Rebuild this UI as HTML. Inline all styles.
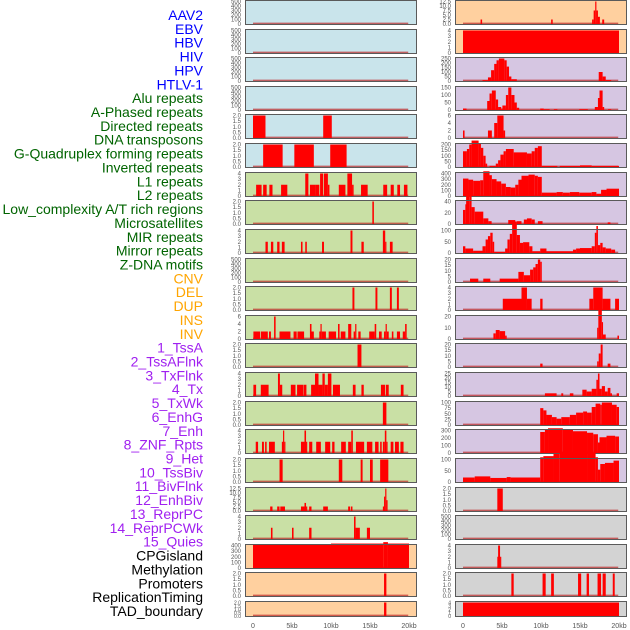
<!DOCTYPE html>
<html><head><meta charset="utf-8"><style>
html,body{margin:0;padding:0;background:#fff;}
svg{display:block;font-family:"Liberation Sans",sans-serif;}
</style></head><body>
<svg id="chart" width="630" height="630" viewBox="0 0 630 630" xmlns="http://www.w3.org/2000/svg"></svg>
<script>
// ---- labels ----
const trackLabels = ["AAV2","EBV","HBV","HIV","HPV","HTLV-1","Alu repeats","A-Phased repeats","Directed repeats","DNA transposons","G-Quadruplex forming repeats","Inverted repeats","L1 repeats","L2 repeats","Low_complexity A/T rich regions","Microsatellites","MIR repeats","Mirror repeats","Z-DNA motifs","CNV","DEL","DUP","INS","INV","1_TssA","2_TssAFlnk","3_TxFlnk","4_Tx","5_TxWk","6_EnhG","7_Enh","8_ZNF_Rpts","9_Het","10_TssBiv","11_BivFlnk","12_EnhBiv","13_ReprPC","14_ReprPCWk","15_Quies","CPGisland","Methylation","Promoters","ReplicationTiming","TAD_boundary"];
const labelColors = ["#0000ff","#0000ff","#0000ff","#0000ff","#0000ff","#0000ff","#006400","#006400","#006400","#006400","#006400","#006400","#006400","#006400","#006400","#006400","#006400","#006400","#006400","#ffa500","#ffa500","#ffa500","#ffa500","#ffa500","#a020f0","#a020f0","#a020f0","#a020f0","#a020f0","#a020f0","#a020f0","#a020f0","#a020f0","#a020f0","#a020f0","#a020f0","#a020f0","#a020f0","#a020f0","#000000","#000000","#000000","#000000","#000000"];
// ---- x axis ----
const xTickValues = [0,5,10,15,20];
const xTickLabels = ["0","5kb","10kb","15kb","20kb"];
// ---- y tick sets per row ----
const leftYTicks = [[0,100,200,300,400,500],[0,100,200,300,400,500],[0,100,200,300,400,500],[0,100,200,300,400,500],[0,0.5,1,1.5,2],[0,0.5,1,1.5,2],[0,1,2,3,4],[0,0.5,1,1.5,2],[0,1,2,3,4],[0,100,200,300,400,500],[0,0.5,1,1.5,2],[0,2,4,6],[0,0.5,1,1.5,2],[0,1,2,3,4],[0,0.5,1,1.5,2],[0,1,2,3,4],[0,0.5,1,1.5,2],[0,2.5,5,7.5,10,12.5],[0,1,2,3,4],[0,100,200,300,400],[0,0.5,1,1.5,2],[0,0.5,1,1.5,2]];
const rightYTicks = [[0,2.5,5,7.5,10,12.5],[0,1,2,3,4],[0,50,100,150,200,250],[0,50,100,150],[0,2,4,6],[0,50,100,150,200],[0,100,200,300,400],[0,20,40],[0,50,100],[0,5,10,15,20],[0,1,2,3,4],[0,10,20],[0,5,10,15,20],[0,5,10,15,20,25],[0,25,50,75,100],[0,100,200,300],[0,50,100],[0,0.5,1,1.5,2],[0,100,200,300,400,500],[0,1,2,3,4],[0,0.5,1,1.5,2],[0,1,2,3,4]];
const leftBg = ["#c9e4eb","#c9e4eb","#c9e4eb","#c9e4eb","#c9e4eb","#c9e4eb","#c9e0a5","#c9e0a5","#c9e0a5","#c9e0a5","#c9e0a5","#c9e0a5","#c9e0a5","#c9e0a5","#c9e0a5","#c9e0a5","#c9e0a5","#c9e0a5","#c9e0a5","#ffd09f","#ffd09f","#ffd09f"];
const rightBg = ["#ffd09f","#ffd09f","#d6c6e2","#d6c6e2","#d6c6e2","#d6c6e2","#d6c6e2","#d6c6e2","#d6c6e2","#d6c6e2","#d6c6e2","#d6c6e2","#d6c6e2","#d6c6e2","#d6c6e2","#d6c6e2","#d6c6e2","#d3d3d3","#d3d3d3","#d3d3d3","#d3d3d3","#d3d3d3"];
// ---- series: [startKb, endKb, value] ----
const leftSeries = [
 [],[],[],[],
 [[0,1.6,2],[9,10.1,2]],
 [[1.3,3.8,2],[5.3,7.8,2],[9.9,12,2]],
 [[0.4,1.1,2],[1.3,1.75,2],[2.1,2.5,2],[3.6,4.4,2],[6.7,7.1,4],[7.3,8,2],[8,8.5,2],[8.6,9,4],[9.1,9.6,4],[9.6,9.8,2],[11,11.85,2],[12.1,12.7,4],[12.7,12.9,2],[13.85,14.7,2],[16.7,17.2,2],[17.65,18.05,2],[18.5,18.85,2],[19.35,19.8,2]],
 [[15.3,15.5,2]],
 [[1.6,1.9,2],[2.3,2.6,2],[3.1,3.4,2],[3.7,4.05,2],[6.15,6.35,2],[6.7,6.9,2],[8.85,9.1,2],[12.5,12.75,4],[13.9,14.2,2],[16.65,16.95,4],[16.95,17.1,2],[17.55,17.9,2]],
 [],
 [[12.75,13,2],[15.7,15.95,2],[17.55,17.8,2],[18.45,18.7,2]],
 [[0.05,0.9,2],[1,1.9,2],[2.05,2.3,2],[2.7,2.9,6],[3.4,4.8,2],[5.2,5.6,2],[5.7,6.55,2],[7.3,7.5,4],[7.5,7.8,2],[8.5,8.65,2],[8.65,8.8,4],[8.8,9.35,2],[9.7,10.65,2],[10.9,11.1,4],[11.25,11.85,2],[12.2,12.6,4],[12.9,13.1,2],[13.1,13.25,4],[13.5,13.8,2],[14.9,15.6,2],[15.6,15.8,4],[16.15,16.5,2],[16.8,17,2],[17,17.15,4],[17.15,17.4,2],[17.8,18,2],[18.45,18.85,2],[19.2,19.5,2],[19.5,19.7,4]],
 [[13.4,13.9,2]],
 [[0.05,0.4,2],[1,2,2],[3.2,3.45,4],[3.45,3.75,2],[4.85,5.45,2],[5.65,6.45,2],[6.5,6.85,2],[7.45,7.95,2],[7.95,8.4,4],[8.4,8.9,2],[8.9,9.2,4],[9.2,9.6,2],[9.6,10.05,4],[10.25,11.15,2],[12.8,13.15,2],[13.9,14.2,2],[16.4,16.95,2],[17.05,17.4,2],[18.95,19.3,2]],
 [[16.65,17.1,2]],
 [[0.35,0.65,2],[1.15,1.4,2],[1.55,1.75,2],[2.05,2.8,2],[3.7,3.85,2],[3.85,4,4],[4,4.15,2],[6.15,6.6,2],[6.6,6.8,4],[6.8,6.9,2],[7.2,7.6,2],[8.1,8.7,2],[9.25,9.9,2],[10.15,10.45,2],[11.3,11.9,2],[12.2,12.6,2],[12.6,12.8,4],[13.2,14.25,2],[14.6,15.3,2],[15.65,16.1,2],[16.3,16.5,2],[16.65,16.9,2],[16.9,17.1,4],[17.1,17.25,2],[17.65,18,2],[18.2,18.7,2],[18.9,19.3,2]],
 [[3.4,3.8,2],[11,11.45,2],[13.8,14.05,2],[15,15.35,2],[16.3,17.35,2]],
 [[2.2,2.5,2.5],[3.1,3.4,2.5],[3.5,4.1,2.5],[6.15,6.6,2.5],[6.6,6.8,4.5],[6.8,6.95,2.5],[7.2,7.5,2.5],[9,9.6,2.5],[12.2,12.45,2.5],[12.55,12.75,2.5],[16.65,16.8,2.5],[16.8,16.95,8],[16.95,17.1,12.5],[17.1,17.25,6]],
 [[2.3,2.5,2],[5,5.2,2],[7.2,7.5,2],[12.95,13.15,4],[13.15,13.7,2],[14.6,15,2]],
 [[0,10,420],[10,16.7,435],[16.7,17.3,460],[17.3,20,435]],
 [[16.8,17.1,2]],
 [[16.8,17.1,2]]
];
const rightSeries = [
 [[2.25,2.45,2.5],[11.3,11.5,2.5],[16.55,16.75,2.5],[16.75,16.95,7.5],[16.95,17.1,12.5],[17.1,17.3,7.5],[17.3,17.55,4],[17.85,18.1,2.5]],
 [[0,20,4]],
 [[2.5,3.2,10],[3.2,3.6,40],[3.6,4,120],[4,4.3,190],[4.3,4.6,230],[4.6,5.3,250],[5.3,5.6,230],[5.6,5.9,160],[5.9,6.2,50],[6.2,6.9,20],[17.4,17.9,100],[17.9,18.3,50],[18.3,19,10]],
 [[0,0.45,10],[3.1,3.4,60],[3.4,3.7,110],[3.7,4.2,130],[4.2,4.5,70],[4.5,4.9,20],[4.9,5.05,10],[5.05,5.5,30],[5.5,5.8,100],[5.8,6.2,150],[6.2,6.6,100],[6.6,6.9,50],[6.9,7.2,15],[9.9,10.35,10],[10.35,11.1,5],[11.65,12.1,5],[14.9,16,5],[16.9,17.3,20],[17.3,17.5,80],[17.5,17.9,130],[17.9,18.1,20],[18.6,19,5]],
 [[0,0.2,2],[3.2,3.7,2],[4,4.4,4],[4.4,5.2,6],[5.2,5.4,2]],
 [[0,0.5,140],[0.5,0.8,160],[0.8,1.1,200],[1.1,2,235],[2,2.3,210],[2.3,2.6,170],[2.6,2.9,100],[2.9,3.1,30],[3.4,4.2,10],[4.2,4.5,30],[4.5,4.8,60],[4.8,5.2,110],[5.2,5.5,140],[5.5,6.5,160],[6.5,8.2,130],[8.2,8.8,120],[8.8,9.2,140],[9.2,9.6,170],[9.6,10.1,185],[10.1,12.1,10],[12.4,15,10],[15,16.5,15],[16.5,20,10]],
 [[0,0.7,310],[0.7,1.3,290],[1.3,2.2,270],[2.2,2.6,280],[2.6,3.4,440],[3.4,3.7,370],[3.7,4.3,300],[4.3,4.9,260],[4.9,5.5,220],[5.5,6.1,160],[6.1,6.7,150],[6.7,7.1,200],[7.1,7.5,290],[7.5,8.4,360],[8.4,9.2,380],[9.2,9.6,360],[9.6,10.1,340],[10.1,12,60],[12,12.8,70],[12.8,13.7,60],[13.7,14.9,70],[14.9,16.5,60],[16.5,17.1,70],[17.1,17.7,40],[17.7,18.4,110],[18.4,20,130]],
 [[0,0.3,25],[0.3,0.4,35],[0.4,0.8,60],[0.8,1.1,50],[1.1,1.5,30],[1.5,2.6,22],[2.6,3.25,10],[3.25,3.67,5],[5.8,6.7,7],[6.9,7.5,5],[7.8,8.2,8],[8.2,8.8,10],[8.8,9.2,8],[9.6,10.2,5],[18.55,18.9,3]],
 [[0,0.3,30],[0.3,1.3,20],[1.3,2.5,10],[2.5,2.9,30],[2.9,3.2,60],[3.2,3.5,75],[3.5,3.8,90],[3.8,4,50],[4,5.4,5],[5.4,5.7,20],[5.7,6,60],[6,6.3,85],[6.3,6.9,140],[6.9,7.3,80],[7.3,7.7,45],[7.7,8.5,48],[8.5,8.9,30],[8.9,9.9,8],[9.9,10.7,20],[10.7,14.1,8],[14.1,14.5,15],[14.5,15,20],[15,16.5,22],[16.5,16.9,30],[16.9,17.1,90],[17.1,17.3,120],[17.3,17.6,35],[17.6,17.9,45],[17.9,18.3,25],[18.3,19,20],[19,19.5,15]],
 [[0.9,1.96,3],[2.6,3.5,3],[4.7,7.1,3],[7.1,7.8,9],[7.8,8.6,6],[8.6,9,11],[9,9.3,13],[9.3,9.6,16],[9.6,9.9,20],[9.9,10.1,18]],
 [[5.1,7.5,2],[7.5,8.2,4],[8.2,8.8,2],[9.9,10.2,2],[16.2,16.7,2],[16.7,17.9,4],[17.9,18.9,2],[19.5,20,2]],
 [[3.9,4.2,5],[4.2,4.7,8],[4.7,5.4,7],[5.4,5.6,3],[17.2,17.35,10],[17.35,17.8,30],[17.8,17.9,15],[17.9,18.3,4],[19.8,20,3]],
 [[9.9,10.2,3],[17.2,17.4,5],[17.4,17.65,12],[17.65,17.9,20],[18.55,18.9,3]],
 [[10.5,12,3],[12.6,12.85,3],[13.7,14.15,3],[15.3,15.85,7],[15.85,16.5,5],[16.5,17.1,8],[17.1,17.3,18],[17.3,17.5,25],[17.5,17.8,8],[17.8,18.2,11],[18.2,18.55,5],[18.55,18.9,9],[18.9,19.1,3],[19.7,20,3]],
 [[9.9,10.3,75],[10.3,10.7,65],[10.7,11.4,45],[11.4,12,35],[12,12.6,28],[12.6,13.7,35],[13.7,14.5,45],[14.5,15.4,55],[15.4,15.9,60],[15.9,16.5,55],[16.5,17,80],[17,17.6,95],[17.6,17.8,90],[17.8,19.1,100],[19.1,19.7,90],[19.7,20,80]],
 [[9.9,10.5,280],[10.5,10.9,310],[10.9,12.8,330],[12.8,14.1,310],[14.1,15.9,290],[15.9,16.7,270],[16.7,17.3,250],[17.3,17.5,140],[17.5,18.4,210],[18.4,19.5,230],[19.5,20,220]],
 [[0,1.5,20],[1.5,3.5,25],[3.5,5.6,18],[5.6,6.1,22],[6.1,9.9,20],[9.9,10.3,110],[10.3,11.6,115],[11.6,12.4,125],[12.4,15.9,135],[15.9,17,130],[17,17.3,110],[17.3,17.6,55],[17.6,18.2,80],[18.2,19.3,85],[19.3,20,95]],
 [[4.4,5.1,2]],
 [],
 [[4.4,4.5,2],[4.5,4.75,4],[4.75,4.9,2]],
 [[6.2,6.5,2],[10.2,10.6,2],[11.3,11.65,2],[14.75,15.15,2],[15.85,16.15,2],[17.25,17.7,2],[17.9,18.3,2],[19.2,19.45,2]],
 [[0,20,4]]
];

const NS = "http://www.w3.org/2000/svg";
const svg = document.getElementById("chart");
function mk(tag, attrs, parent) {
  const e = document.createElementNS(NS, tag);
  for (const k in attrs) e.setAttribute(k, attrs[k]);
  (parent || svg).appendChild(e);
  return e;
}
const rowTops = [];
for (let i = 0; i < 22; i++) rowTops.push(Math.round(i * 28.62));
function rowHeight(i) { return i === 21 ? 16 : 25; }
function xScale(col, kb) { return (col === 0 ? 253 : 463) + kb * 7.8; }
function yScale(row, ticks, v) {
  const top = rowTops[row], h = rowHeight(row);
  const y0 = top + h - 1, y1 = top + 1.5;
  const max = ticks[ticks.length - 1];
  return y0 - (v / max) * (y0 - y1);
}
function fmt(t, ticks) {
  const dec = ticks.some(v => v % 1 !== 0);
  return dec ? t.toFixed(1) : String(t);
}

// labels
const labG = mk("g", {});


trackLabels.forEach((t, i) => {
  const el = mk("text", {x: 203, y: 15 + i * 13.86 + 5, "text-anchor": "end", "font-size": 14, fill: labelColors[i]}, labG);
  el.textContent = t;
  
  
});

function drawPanel(col, row) {
  const ticks = col === 0 ? leftYTicks[row] : rightYTicks[row];
  const series = col === 0 ? leftSeries[row] : rightSeries[row];
  const px = col === 0 ? 245 : 455;
  const top = rowTops[row], h = rowHeight(row);
  const g = mk("g", {});
  
  
  const bg = mk("rect", {x: px + 0.5, y: top + 0.5, width: 171, height: h - 1, fill: col === 0 ? leftBg[row] : rightBg[row]}, g);
  
  
  ticks.forEach(t => {
    const tl = mk("text", {x: px - 4, y: yScale(row, ticks, t) + 2, "text-anchor": "end", "font-size": row === 21 ? 5 : 6, fill: "#555"}, g);
    tl.textContent = fmt(t, ticks);
    
    
  });
  const y0 = yScale(row, ticks, 0);
  const base = mk("line", {x1: xScale(col, 0), x2: xScale(col, 19.9), y1: y0 - 0.7, y2: y0 - 0.7, stroke: "rgba(190,40,40,0.7)", "stroke-width": 1.4}, g);
  
  
  series.forEach(s => {
    const x1 = xScale(col, s[0]), x2 = xScale(col, s[1]);
    const yv = yScale(row, ticks, s[2]);
    const r = mk("rect", {x: x1, y: yv, width: Math.max(1.2, x2 - x1), height: y0 - yv, fill: "#ff0000"}, g);
    
    
  });
  const border = mk("rect", {x: px + 0.5, y: top + 0.5, width: 171, height: h - 1, fill: "none", stroke: "#5a5a5a", "stroke-width": 1}, g);
  
  
}
for (let r = 0; r < 22; r++) { drawPanel(0, r); drawPanel(1, r); }

// x axes
[0, 1].forEach(col => {
  const g = mk("g", {});
  
  
  xTickValues.forEach((v, i) => {
    const t = mk("text", {x: xScale(col, v), y: 628, "text-anchor": "middle", "font-size": 7, fill: "#555"}, g);
    t.textContent = xTickLabels[i];
    
    
  });
});
</script>
</body></html>
